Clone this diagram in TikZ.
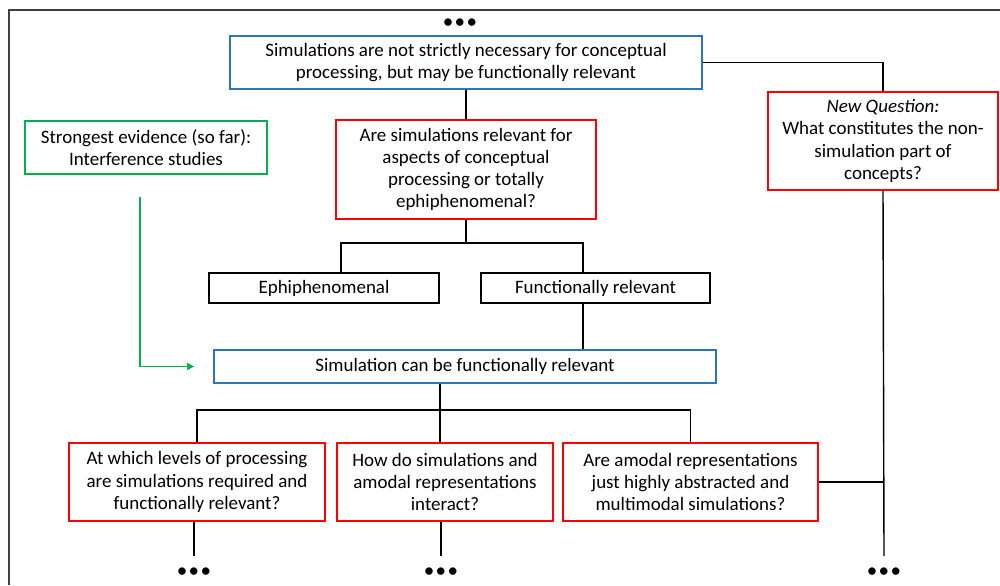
\documentclass[tikz,border=0pt]{standalone}
\usepackage{fontspec}
\setmainfont{Carlito}
\usepackage{xcolor}
\usetikzlibrary{arrows.meta}
\definecolor{boxblue}{HTML}{2E75B6}
\definecolor{boxred}{HTML}{FF0000}
\definecolor{boxgreen}{HTML}{00B050}

\begin{document}
\begin{tikzpicture}[x = 0.02cm, y = -0.02cm,
        box/.style = {draw, line width = 1.1pt, align = center, inner sep = 0pt,
            font = \fontsize{10.8}{12.6}\selectfont},
        link/.style = {line width = 0.8pt},
        more/.style = {inner sep = 0pt, font = \fontsize{12}{12}\selectfont}]
        \useasboundingbox (0, 0) rectangle (1000, 585);

        % Frame
        \draw [line width = 0.8pt, black!75] (9, 585) -- (9, 10) -- (1000, 10);

        % Nodes
        \node [box, draw = boxblue, minimum width = 9.46cm, minimum height = 1.06cm] (a) at (466, 62.5)
            {Simulations are not strictly necessary for conceptual\\processing, but may be functionally relevant};
        \node [box, draw = boxred, minimum width = 5.2cm, minimum height = 1.98cm] (b) at (466, 169.5)
            {Are simulations relevant for\\aspects of conceptual\\processing or totally\\ephiphenomenal?};
        \node [box, draw = boxred, minimum width = 4.6cm, minimum height = 1.96cm] (nq) at (883, 141)
            {\textit{New Question:}\\What constitutes the non-\\simulation part of\\concepts?};
        \node [box, draw = boxgreen, minimum width = 4.84cm, minimum height = 1.06cm] (ge) at (146, 147.5)
            {Strongest evidence (so far):\\Interference studies};
        \node [box, minimum width = 4.6cm, minimum height = 0.6cm] (e) at (324, 288) {Ephiphenomenal};
        \node [box, minimum width = 4.58cm, minimum height = 0.6cm] (f) at (595.5, 288) {Functionally relevant};
        \node [box, draw = boxblue, minimum width = 10.04cm, minimum height = 0.66cm] (sf) at (465, 366.5)
            {Simulation can be functionally relevant};
        \node [box, draw = boxred, minimum width = 5.12cm, minimum height = 1.56cm] (q1) at (197, 482)
            {At which levels of processing\\are simulations required and\\functionally relevant?};
        \node [box, draw = boxred, minimum width = 4.32cm, minimum height = 1.56cm] (q2) at (445, 482)
            {How do simulations and\\amodal representations\\interact?};
        \node [box, draw = boxred, minimum width = 5.1cm, minimum height = 1.56cm] (q3) at (690.5, 482)
            {Are amodal representations\\just highly abstracted and\\multimodal simulations?};

        % Dots
        \node [more] (d0) at (460, 24) {•\kern0.8pt•\kern0.8pt•};
        \node [more] (d1) at (194, 573) {•\kern0.8pt•\kern0.8pt•};
        \node [more] (d2) at (441, 573) {•\kern0.8pt•\kern0.8pt•};
        \node [more] (d3) at (884, 573) {•\kern0.8pt•\kern0.8pt•};

        % Splits
        \coordinate (esplit) at (341, 243);
        \coordinate (fsplit) at (583, 243);
        \coordinate (qsplit) at (440, 410);
        \coordinate (gstart) at (140, 197);

        % Lines
        \draw [link] (a.south) -- (b.north);
        \draw [link] (a.east) -| (nq.north);
        \draw [link] (b.south) -- (b.south |- esplit);
        \draw [link] (esplit |- e.north) -- (esplit) -- (fsplit) -- (fsplit |- f.north);
        \draw [link] (fsplit |- f.south) -- (fsplit |- sf.north);
        \draw [link] (qsplit |- sf.south) -- (qsplit);
        \draw [link] (q1.north) -- (q1.north |- qsplit) -- (q3.north |- qsplit) -- (q3.north);
        \draw [link] (qsplit) -- (qsplit |- q2.north);
        \draw [link] (d1 |- q1.south) -- ([yshift = 0.34cm] d1.center);
        \draw [link] (d2 |- q2.south) -- ([yshift = 0.34cm] d2.center);
        \draw [link] (nq.south) -- ([yshift = 0.34cm] d3.center);
        \draw [link] (q3.east) -- (q3.east -| nq.south);

        % Evidence
        \draw [link, draw = boxgreen, -{Triangle[length = 4pt, width = 4pt]}, shorten > = 0.38cm]
            (gstart) |- (sf.west);

    \end{tikzpicture}
\end{document}
